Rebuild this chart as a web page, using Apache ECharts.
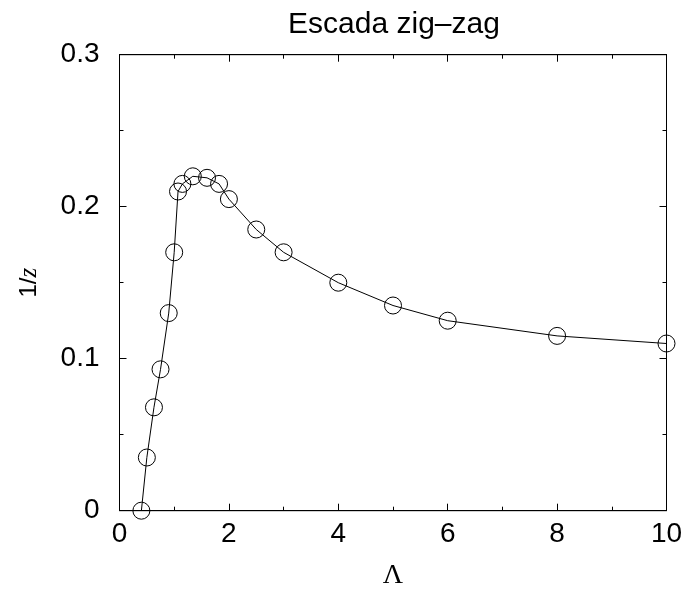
<!DOCTYPE html>
<html>
<head>
	<meta charset="utf-8" />
	<title>Escada zig-zag</title>
	<script src="https://cdn.jsdelivr.net/npm/echarts@6/dist/echarts.min.js"></script>
	<style>
		html, body { margin: 0; padding: 0; background: #fff; }
		#main { width: 683px; height: 591px; }
	</style>
</head>
<body>
	<div id="main"></div>
	<script>
		// Lambda values and 1/z
		var lambda = [0.4, 0.5, 0.63, 0.75, 0.9, 1.0, 1.07, 1.15, 1.34, 1.6, 1.82, 2.0, 2.5, 3, 4, 5, 6, 8, 10];
		var invZ = [0, 0.035, 0.068, 0.093, 0.13, 0.17, 0.21, 0.215, 0.22, 0.219, 0.215, 0.205, 0.185, 0.17, 0.15, 0.135, 0.125, 0.115, 0.11];

		var points = lambda.map(function (x, i) { return [x, invZ[i]]; });

		var sans = '"Liberation Sans", Arial, sans-serif';
		var serif = '"Liberation Serif", "Times New Roman", serif';

		function makeX(pos, labels) {
			return {
				show: true, type: 'value', position: pos, offset: 0, min: 0, max: 10, interval: 2,
				axisLine: { show: true, onZero: false, lineStyle: { color: '#000', width: 1 } },
				axisTick: { show: true, inside: true, length: 7, lineStyle: { color: '#000' } },
				minorTick: { show: true, splitNumber: 2, length: 4, lineStyle: { color: '#000' } },
				axisLabel: { show: labels, inside: false, color: '#000', fontFamily: sans, fontSize: 28, margin: 10 },
				splitLine: { show: false }
			};
		}
		function makeY(pos, labels) {
			return {
				show: true, type: 'value', position: pos, offset: 0, min: 0, max: 0.3, interval: 0.1,
				axisLine: { show: true, onZero: false, lineStyle: { color: '#000', width: 1 } },
				axisTick: { show: true, inside: true, length: 7, lineStyle: { color: '#000' } },
				minorTick: { show: true, splitNumber: 2, length: 4, lineStyle: { color: '#000' } },
				axisLabel: { show: labels, inside: false, color: '#000', fontFamily: sans, fontSize: 28, margin: 20 },
				splitLine: { show: false }
			};
		}

		var xBottom = makeX('bottom', true);
		xBottom.name = 'Λ';
		xBottom.nameLocation = 'middle';
		xBottom.nameGap = 51;
		xBottom.nameTextStyle = { fontFamily: serif, fontSize: 28, color: '#000' };

		var yLeft = makeY('left', true);
		yLeft.name = '{a|1/}{b|z}';
		yLeft.nameLocation = 'middle';
		yLeft.nameGap = 78;
		yLeft.nameTextStyle = {
			color: '#000',
			rich: {
				a: { fontFamily: sans, fontSize: 24, color: '#000' },
				b: { fontFamily: serif, fontStyle: 'italic', fontSize: 25, color: '#000' }
			}
		};

		var myChart = echarts.init(document.getElementById('main'), null, { renderer: 'canvas' });
		var option = {
			animation: false,
			backgroundColor: '#fff',
			title: {
				text: 'Escada zig–zag',
				left: 389, top: 5, textAlign: 'center',
				textStyle: { fontFamily: sans, fontSize: 30, fontWeight: 'normal', color: '#000' }
			},
			grid: {
				left: 119.5, right: 16.5, top: 54.7, bottom: 80.3,
				containLabel: false, outerBoundsMode: 'none',
				show: true, borderColor: '#000', borderWidth: 1, backgroundColor: 'transparent'
			},
			xAxis: [xBottom, makeX('top', false)],
			yAxis: [yLeft, makeY('right', false)],
			series: [{
				type: 'line',
				xAxisIndex: 0, yAxisIndex: 0,
				data: points,
				symbol: 'circle',
				symbolSize: 17,
				itemStyle: { color: 'rgba(0,0,0,0)', borderColor: '#000', borderWidth: 1 },
				lineStyle: { color: '#000', width: 1 },
				z: 3
			}, {
				// empty series so the mirrored top/right axes get drawn
				type: 'line',
				xAxisIndex: 1, yAxisIndex: 1,
				data: [],
				silent: true
			}]
		};
		myChart.setOption(option);
	</script>
</body>
</html>
